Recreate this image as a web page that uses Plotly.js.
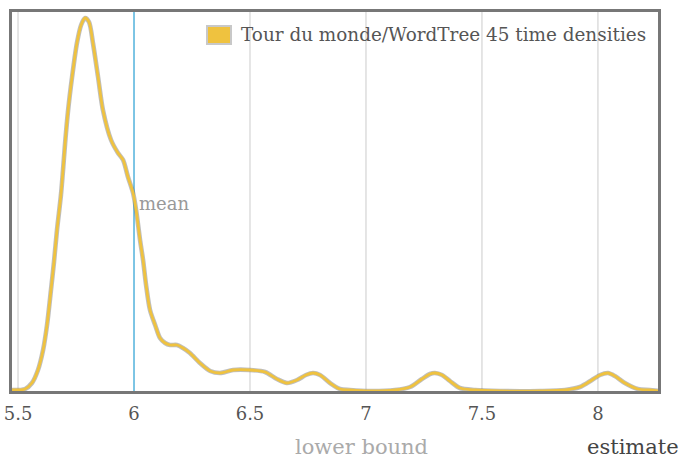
<!DOCTYPE html>
<html>
<head>
<meta charset="utf-8">
<script src="https://cdn.plot.ly/plotly-3.0.1.min.js"></script>
<style>html,body{margin:0;padding:0;background:#fff;}#chart{width:682px;height:459px;}</style>
</head>
<body>
<div id="chart"></div>
<script>
// Density estimate (x = estimate, y = density)
const estimateX = [5.474,5.530,5.560,5.586,5.608,5.625,5.642,5.655,5.668,5.685,5.694,5.703,5.716,5.733,5.754,5.772,5.789,5.806,5.823,5.845,5.866,5.901,5.931,5.953,5.974,5.996,6.009,6.026,6.039,6.052,6.069,6.091,6.112,6.134,6.155,6.185,6.211,6.241,6.284,6.328,6.371,6.427,6.500,6.565,6.616,6.659,6.703,6.741,6.772,6.802,6.845,6.888,6.931,7.017,7.125,7.190,7.241,7.276,7.297,7.328,7.362,7.405,7.470,7.578,7.750,7.858,7.922,7.974,8.009,8.043,8.073,8.116,8.172,8.224,8.267];
const densityY  = [0.01,0.02,0.08,0.21,0.41,0.66,1.01,1.29,1.61,1.96,2.21,2.48,2.81,3.14,3.48,3.66,3.73,3.69,3.48,3.14,2.81,2.51,2.38,2.31,2.14,1.98,1.81,1.51,1.31,1.06,0.81,0.66,0.53,0.48,0.46,0.46,0.43,0.38,0.28,0.20,0.18,0.21,0.21,0.19,0.12,0.08,0.11,0.16,0.18,0.16,0.08,0.02,0.01,0.00,0.01,0.04,0.12,0.17,0.18,0.16,0.10,0.03,0.01,0.00,0.00,0.01,0.04,0.11,0.16,0.18,0.15,0.08,0.02,0.01,0.00];
const meanValue = 6;
const tickVals = [5.5, 6, 6.5, 7, 7.5, 8];
const tickText = ["5.5", "6", "6.5", "7", "7.5", "8"];
const gridVals = [5.5, 6.5, 7, 7.5, 8];
const seriesName = "Tour du monde/WordTree 45 time densities";

const FONT = "DejaVu Serif, Liberation Serif, serif";
const GOLD = "#EFC23F";

const traces = [
  {x: estimateX, y: densityY, mode: "lines", line: {color: "rgba(110,110,110,0.45)", width: 4.6, shape: "spline", smoothing: 0.8}, hoverinfo: "skip", showlegend: false},
  {x: estimateX, y: densityY, mode: "lines", name: seriesName, line: {color: GOLD, width: 2.8, shape: "spline", smoothing: 0.8}, showlegend: false}
];

const shapes = [];
gridVals.forEach(v => shapes.push({type: "line", xref: "x", yref: "paper", x0: v, x1: v, y0: 0, y1: 1, line: {color: "#dddddd", width: 1.5}, layer: "below"}));
shapes.push({type: "line", xref: "x", yref: "paper", x0: meanValue, x1: meanValue, y0: 0, y1: 1, line: {color: "#5DB7DE", width: 1.6}, layer: "below"});
// legend swatch
shapes.push({type: "rect", xref: "paper", yref: "paper", x0: (207-12)/646, x1: (231-12)/646, y0: (391-44)/379, y1: (391-26)/379, fillcolor: GOLD, line: {color: "#c8c8c8", width: 2}});

const annotations = [
  {xref: "paper", yref: "paper", x: (239-12)/646, y: (391-35)/379, xanchor: "left", yanchor: "middle", text: seriesName, showarrow: false, font: {family: FONT, size: 18.4, color: "#555"}},
  {xref: "x", yref: "paper", x: meanValue, y: (391-203)/379, xanchor: "left", yanchor: "middle", xshift: 3, text: "mean", showarrow: false, font: {family: FONT, size: 18, color: "#999"}},
  {xref: "paper", yref: "paper", x: (361-12)/646, y: (391-447)/379, xanchor: "center", yanchor: "middle", text: "lower bound", showarrow: false, font: {family: FONT, size: 21, color: "#aaa"}},
  {xref: "paper", yref: "paper", x: (681-12)/646, y: (391-447)/379, xanchor: "right", yanchor: "middle", text: "estimate", showarrow: false, font: {family: FONT, size: 21, color: "#444"}}
];

const layout = {
  width: 682, height: 459,
  margin: {l: 12, r: 24, t: 12, b: 68},
  paper_bgcolor: "#fff", plot_bgcolor: "#fff",
  xaxis: {range: [5.474, 8.259], tickvals: tickVals, ticktext: tickText, showgrid: false, zeroline: false,
          showline: true, mirror: true, linecolor: "#777", linewidth: 3, ticks: "", ticklen: 0, ticklabelstandoff: 4,
          tickfont: {family: FONT, size: 18, color: "#555"}, fixedrange: true},
  yaxis: {range: [0, 3.79], showticklabels: false, showgrid: false, zeroline: false,
          showline: true, mirror: true, linecolor: "#777", linewidth: 3, ticks: "", fixedrange: true},
  shapes: shapes,
  annotations: annotations,
  showlegend: false
};

Plotly.newPlot("chart", traces, layout, {displayModeBar: false, staticPlot: true});
</script>
</body>
</html>
